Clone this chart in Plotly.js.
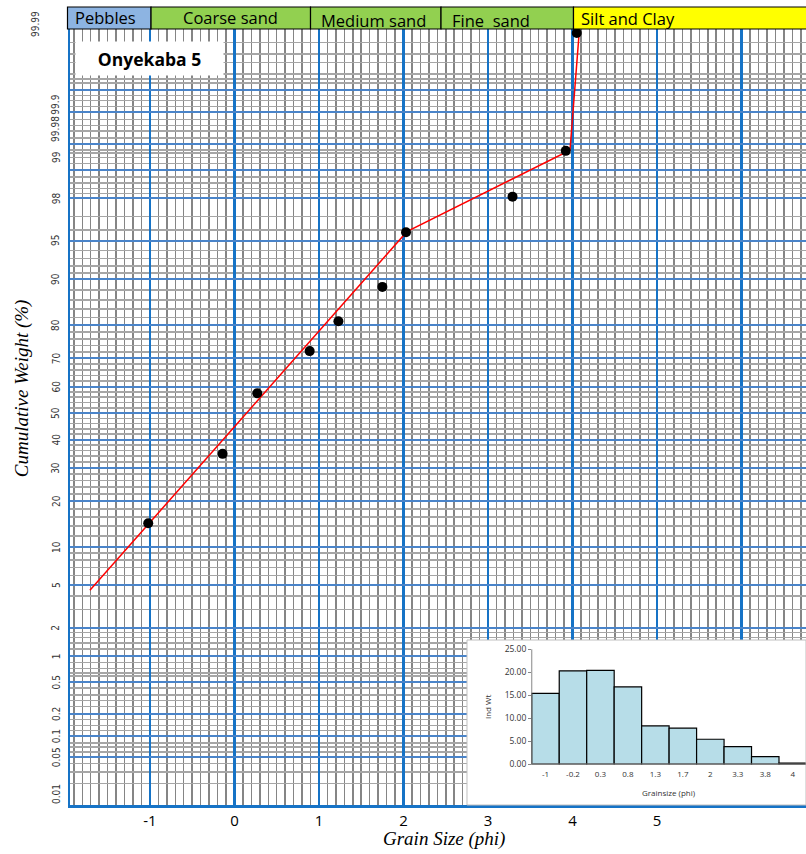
<!DOCTYPE html>
<html><head><meta charset="utf-8">
<script src="https://cdn.plot.ly/plotly-3.0.1.min.js"></script>
<style>html,body{margin:0;padding:0;background:#fff}#chart{width:806px;height:854px}</style>
</head><body><div id="chart"></div>
<script>
// ---- data ----
const grainPhi  = [-1.02, -0.14, 0.27, 0.89, 1.23, 1.75, 2.03, 3.29, 3.92, 4.05];
const cumWeight = [14.6, 34.8, 57.5, 72.3, 81.0, 88.6, 95.8, 98.07, 99.39, 99.986];
const fitPhi = [-1.71, 2.04, 3.97, 4.08];
const fitCum = [4.5, 95.85, 99.4, 99.987];
const insetCats = ['-1','-0.2','0.3','0.8','1.3','1.7','2','3.3','3.8','4'];
const insetWt   = [15.4, 20.3, 20.4, 16.8, 8.3, 7.8, 5.4, 3.8, 1.6, 0.2];
const xTickVals = [-1, 0, 1, 2, 3, 4, 5, 6];
const xTickText = ['-1','0','1','2','3','4','5',''];
const yLabels  = ['99.99','99.9','99.98','99','98','95','90','80','70','60','50','40','30','20','10','5','2','1','0.5','0.2','0.1','0.05','0.01'];
const yLabelAt = [99.99, 99.84, 99.67, 99.28, 98, 95, 90, 80, 70, 60, 50, 40, 30, 20, 10, 5, 2, 1, 0.5, 0.2, 0.1, 0.05, 0.0135];
const majorProbs = [0.05,0.1,0.2,0.5,1,2,5,10,20,30,40,50,60,70,80,90,95,98,99,99.5,99.8,99.9];
const minorLow = [0.02,0.03,0.04,0.06,0.07,0.08,0.12,0.14,0.17,0.25,0.3,0.35,0.43,0.6,0.65,0.73,0.85,
                  1.2,1.4,1.6,1.8,3,4,6,7,8,9,12,14,16,18,22,24,26,28,32,34,36,38,42,44,46,48];
const sizeClasses = ['Pebbles','Coarse sand','Medium sand','Fine  sand','Silt and Clay'];

// ---- probability (probit) transform ----
function probit(p){
  const a=[-3.969683028665376e+01,2.209460984245205e+02,-2.759285104469687e+02,1.383577518672690e+02,-3.066479806614716e+01,2.506628277459239e+00];
  const b=[-5.447609879822406e+01,1.615858368580409e+02,-1.556989798598866e+02,6.680131188771972e+01,-1.328068155288572e+01];
  const c=[-7.784894002430293e-03,-3.223964580411365e-01,-2.400758277161838e+00,-2.549671348279751e+00,4.374664141464968e+00,2.938163982698783e+00];
  const d=[7.784695709041462e-03,3.224671290700398e-01,2.445134137142996e+00,3.754408661907416e+00];
  const pl=0.02425; let q,r;
  if(p<pl){q=Math.sqrt(-2*Math.log(p));return (((((c[0]*q+c[1])*q+c[2])*q+c[3])*q+c[4])*q+c[5])/((((d[0]*q+d[1])*q+d[2])*q+d[3])*q+1);}
  if(p>1-pl){q=Math.sqrt(-2*Math.log(1-p));return -(((((c[0]*q+c[1])*q+c[2])*q+c[3])*q+c[4])*q+c[5])/((((d[0]*q+d[1])*q+d[2])*q+d[3])*q+1);}
  q=p-0.5;r=q*q;return (((((a[0]*r+a[1])*r+a[2])*r+a[3])*r+a[4])*r+a[5])*q/(((((b[0]*r+b[1])*r+b[2])*r+b[3])*r+b[4])*r+1);
}
const z = pct => probit(pct/100);

const Z_BOTTOM = -3.7476, Z_TOP = 3.6711, Y_DOM_TOP = 0.97;
const zPaper = zz => (zz - Z_BOTTOM)/(Z_TOP - Z_BOTTOM)*Y_DOM_TOP;

const minorProbs = minorLow.concat(minorLow.map(p => +(100-p).toFixed(3)));
const xMinor = [];
for (let k=-19;k<=67;k++){ if (k%10!==0) xMinor.push(k/10); }

const BLUE_V = '#1673C6', BLUE_H = '#4A84C9';

const traces = [
  {x: fitPhi, y: fitCum.map(z), mode:'lines', line:{color:'#FF0000', width:1.5},
   xaxis:'x', yaxis:'y', cliponaxis:false, hoverinfo:'skip'},
  {x: grainPhi, y: cumWeight.map(z), mode:'markers', marker:{color:'#000', size:10},
   xaxis:'x', yaxis:'y', cliponaxis:false, customdata: cumWeight,
   hovertemplate:'%{x}, %{customdata}%<extra></extra>'},
  {type:'bar', x: insetCats, y: insetWt, xaxis:'x2', yaxis:'y2',
   marker:{color:'#B7DDE8', line:{color:'#000', width:1.2}}}
];

const annotations = [];
yLabels.forEach((t,i)=>{
  annotations.push({xref:'paper', yref:'paper', x: i===0 ? -0.0462 : -0.019, y: zPaper(z(yLabelAt[i])),
    text:t, textangle:-90, showarrow:false, xanchor:'center', yanchor:'middle',
    font:{family:'Liberation Sans Narrow, Arial Narrow, DejaVu Sans Condensed, sans-serif', size:10, color:'#333'}});
});
annotations.push({xref:'paper', yref:'paper', x:-0.0652, y:0.521, xanchor:'center', yanchor:'middle',
  text:'<i>Cumulative Weight (%)</i>', textangle:-90, showarrow:false,
  font:{family:'Liberation Serif, Times New Roman, serif', size:19, color:'#000'}});
annotations.push({xref:'paper', yref:'paper', x:0.508, y:-0.0425, xanchor:'center', yanchor:'middle',
  text:'<i>Grain Size (phi)</i>', showarrow:false,
  font:{family:'Liberation Serif, Times New Roman, serif', size:19, color:'#000'}});
annotations.push({xref:'paper', yref:'paper', x:0.108, y:0.93375, xanchor:'center', yanchor:'middle',
  text:'<b>Onyekaba 5</b>', showarrow:false,
  bgcolor:'#fff', width:145, height:31, font:{family:'Open Sans, sans-serif', size:17.5, color:'#000'}});
// banner
const bannerEdges = [-0.0034, 0.1101, 0.3268, 0.5041, 0.6841, 1.0014];
const bannerFill = ['#8DB4E2','#92D050','#92D050','#92D050','#FFFF00'];
const bannerTextX = [0.0489, 0.2174, 0.4130, 0.5720, 0.7582];
const bannerTextY = [0.9838, 0.9850, 0.9812, 0.9812, 0.9825];
const shapes = [];
sizeClasses.forEach((t,i)=>{
  shapes.push({type:'rect', xref:'paper', yref:'paper', x0:bannerEdges[i], x1:bannerEdges[i+1], y0:0.97, y1:0.9975,
    fillcolor:bannerFill[i], line:{color:'#000', width:1.2}, layer:'above'});
  annotations.push({xref:'paper', yref:'paper', x:bannerTextX[i], y:bannerTextY[i], text:t, showarrow:false,
    xanchor:'center', yanchor:'middle', font:{family:'Open Sans, sans-serif', size:16.5, color:'#000'}});
});
// inset decorations
shapes.push({type:'rect', xref:'paper', yref:'paper', x0:0.5394, x1:1.0, y0:0, y1:0.20625,
  line:{color:'#bfbfbf', width:1}, fillcolor:'rgba(0,0,0,0)', layer:'above'});
shapes.push({type:'line', xref:'x2', yref:'y2', x0:-0.5, x1:-0.5, y0:0, y1:25, line:{color:'#868686', width:1}, layer:'above'});
shapes.push({type:'line', xref:'x2', yref:'y2', x0:-0.5, x1:9.5, y0:0, y1:0, line:{color:'#868686', width:1}, layer:'above'});
annotations.push({xref:'paper', yref:'paper', x:0.5666, y:0.1225, xanchor:'center', yanchor:'middle',
  text:'Ind Wt', textangle:-90, showarrow:false, font:{family:'Open Sans, sans-serif', size:8, color:'#333'}});
annotations.push({xref:'paper', yref:'paper', x:0.8139, y:0.01625, xanchor:'center', yanchor:'middle',
  text:'Grainsize (phi)', showarrow:false, font:{family:'Open Sans, sans-serif', size:8, color:'#333'}});

const layout = {
  width:806, height:854, margin:{l:70, r:0, t:5, b:49},
  paper_bgcolor:'#fff', plot_bgcolor:'#fff', showlegend:false, bargap:0,
  font:{family:'Open Sans, sans-serif'},
  xaxis:{domain:[0,1], anchor:'y', range:[-1.9454, 6.762], tickmode:'array', tickvals:xTickVals, ticktext:xTickText,
    showgrid:true, gridcolor:BLUE_V, gridwidth:2.5, zeroline:false, showline:true, linecolor:BLUE_V, linewidth:2.5,
    mirror:true, ticks:'', tickfont:{size:15, color:'#000', family:'Open Sans, sans-serif'}, ticklabelstandoff:0,
    minor:{tickmode:'array', tickvals:xMinor, showgrid:true, gridcolor:'#858585', gridwidth:1.5, ticks:''}},
  yaxis:{domain:[0, Y_DOM_TOP], anchor:'x', range:[Z_BOTTOM, Z_TOP], tickmode:'array', tickvals:majorProbs.map(z),
    showticklabels:false, showgrid:true, gridcolor:BLUE_H, gridwidth:2, zeroline:false, showline:true,
    linecolor:BLUE_V, linewidth:2.5, ticks:'',
    minor:{tickmode:'array', tickvals:minorProbs.map(z), showgrid:true, gridcolor:'#a6a6a6', gridwidth:1.5, ticks:''}},
  xaxis2:{domain:[0.5394, 1], anchor:'free', position:0.05125, type:'category', range:[-2.858, 9.483],
    showgrid:false, zeroline:false, showline:false, ticks:'', tickfont:{size:8, color:'#333'}, ticklabelstandoff:4},
  yaxis2:{domain:[0, 0.20625], anchor:'free', position:0.6264, range:[-8.936, 27.027], tickmode:'array',
    tickvals:[0,5,10,15,20,25], tickformat:'.2f', showgrid:false, zeroline:false, showline:false,
    ticks:'outside', ticklen:3, tickcolor:'#868686', tickfont:{size:8.5, color:'#333'}},
  annotations, shapes
};
Plotly.newPlot('chart', traces, layout, {displayModeBar:false, staticPlot:true});
</script></body></html>
